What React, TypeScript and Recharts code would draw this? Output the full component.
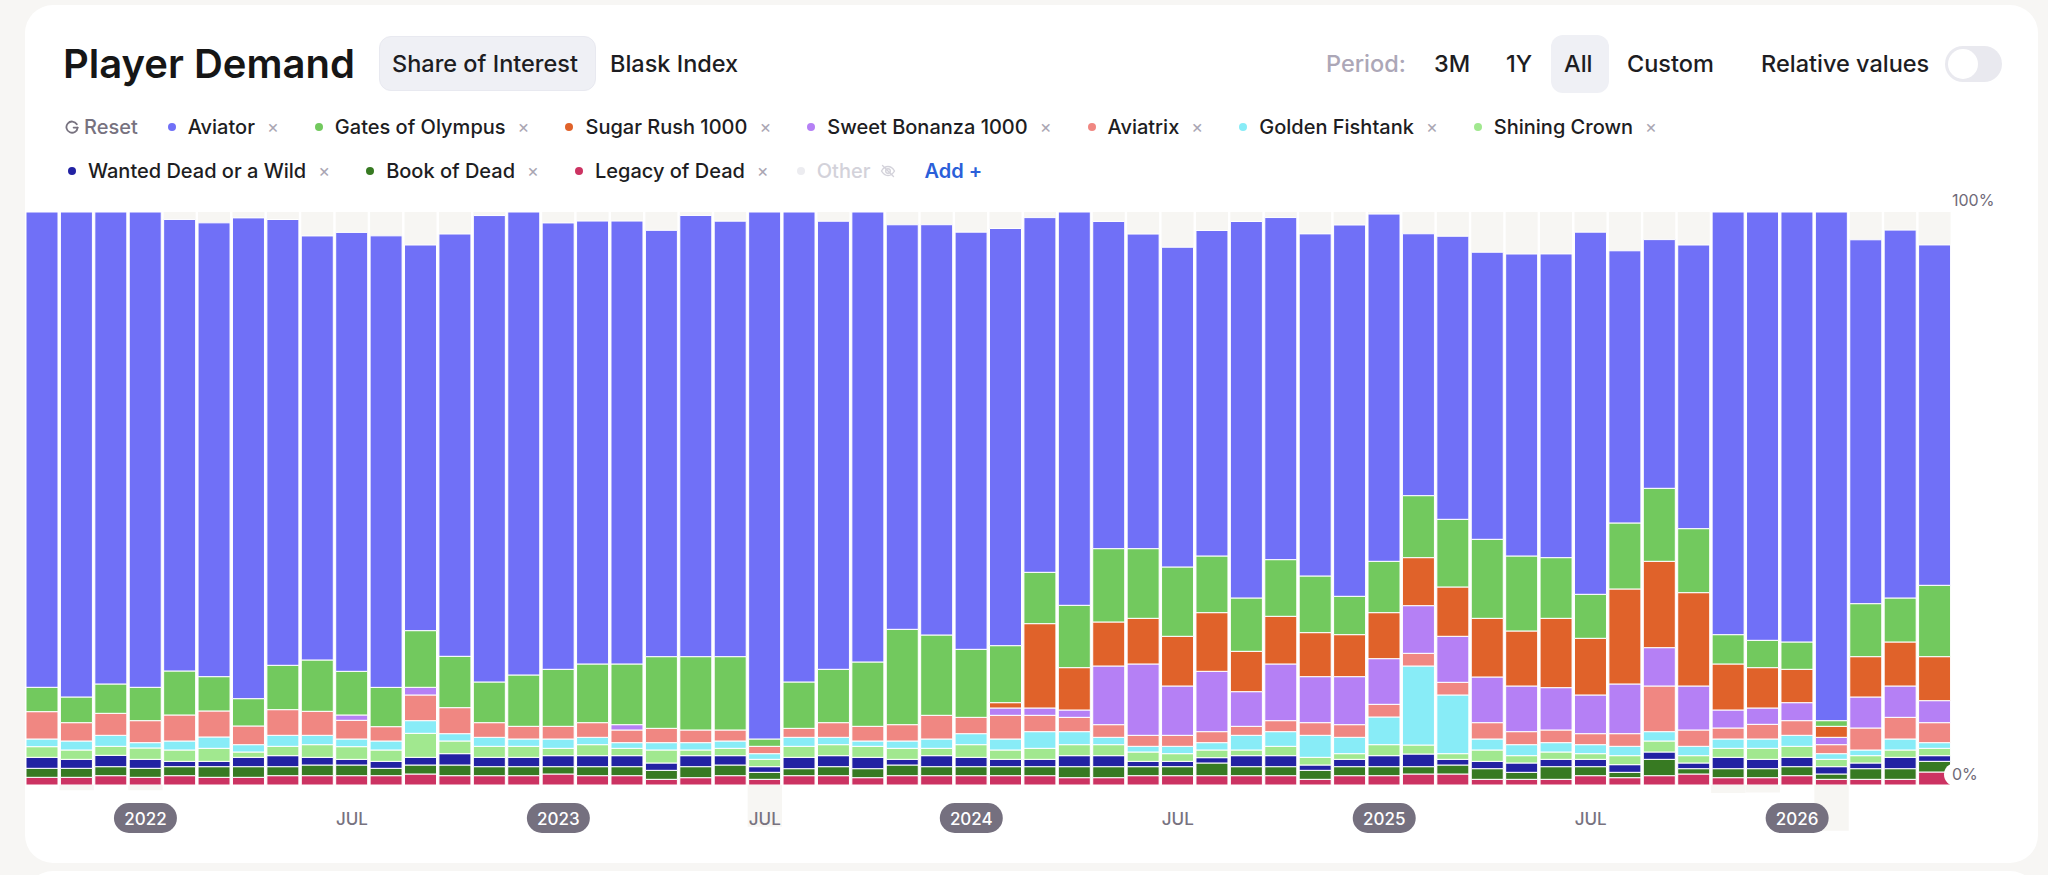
import React from 'react';
import { BarChart, Bar, XAxis, YAxis, ReferenceArea } from 'recharts';

const months = [
  '2021-10', '2021-11', '2021-12',
  '2022-01', '2022-02', '2022-03', '2022-04', '2022-05', '2022-06', '2022-07', '2022-08', '2022-09', '2022-10', '2022-11', '2022-12',
  '2023-01', '2023-02', '2023-03', '2023-04', '2023-05', '2023-06', '2023-07', '2023-08', '2023-09', '2023-10', '2023-11', '2023-12',
  '2024-01', '2024-02', '2024-03', '2024-04', '2024-05', '2024-06', '2024-07', '2024-08', '2024-09', '2024-10', '2024-11', '2024-12',
  '2025-01', '2025-02', '2025-03', '2025-04', '2025-05', '2025-06', '2025-07', '2025-08', '2025-09', '2025-10', '2025-11', '2025-12',
  '2026-01', '2026-02', '2026-03', '2026-04', '2026-05',
];

const legacyOfDead = [1.34, 1.34, 1.63, 1.34, 1.63, 1.34, 1.34, 1.63, 1.63, 1.63, 1.63, 1.92, 1.63, 1.63, 1.63, 1.92, 1.63, 1.63, 0.99, 1.28, 1.63, 0.99, 1.63, 1.63, 1.28, 1.63, 1.63, 1.63, 1.63, 1.63, 1.28, 1.28, 1.63, 1.63, 1.63, 1.63, 1.63, 0.99, 1.63, 1.63, 1.92, 1.92, 0.99, 0.99, 0.99, 1.63, 1.28, 1.63, 1.92, 1.28, 1.28, 1.63, 0.99, 0.99, 0.99, 2.27];
const bookOfDead = [1.57, 1.57, 1.57, 1.57, 1.57, 1.86, 1.86, 1.57, 1.86, 1.86, 1.28, 1.57, 1.86, 1.57, 1.57, 1.28, 1.57, 1.57, 1.57, 1.92, 1.86, 1.22, 1.22, 1.57, 1.57, 1.86, 1.57, 1.57, 1.57, 1.57, 1.92, 1.92, 1.57, 1.57, 2.21, 1.57, 1.57, 1.57, 1.57, 1.57, 1.28, 1.57, 1.86, 1.22, 2.21, 1.57, 0.93, 2.85, 0.93, 1.57, 1.57, 1.57, 0.93, 1.86, 1.86, 1.86];
const wantedDead = [1.92, 1.57, 1.98, 1.57, 0.93, 0.93, 1.63, 1.92, 1.34, 0.99, 1.22, 1.34, 1.98, 1.63, 1.63, 1.92, 1.92, 1.92, 1.28, 1.92, 1.63, 0.99, 1.98, 1.92, 1.98, 0.99, 1.92, 1.63, 1.28, 1.28, 1.92, 1.92, 0.93, 0.93, 0.93, 1.92, 1.92, 0.93, 1.28, 1.92, 2.21, 0.99, 1.28, 1.63, 1.28, 1.28, 1.34, 1.28, 0.99, 1.98, 1.63, 1.63, 1.28, 0.99, 1.98, 0.99];
const shiningCrown = [1.86, 1.63, 1.57, 1.98, 1.98, 2.27, 0.93, 1.63, 2.21, 2.21, 1.98, 4.19, 2.21, 1.92, 1.92, 1.28, 1.92, 1.28, 2.27, 0.99, 1.28, 1.28, 1.92, 1.92, 1.92, 1.92, 1.28, 2.21, 1.63, 1.92, 1.92, 1.92, 1.63, 1.34, 1.34, 0.99, 1.63, 1.34, 0.99, 1.92, 1.57, 0.99, 1.98, 1.28, 1.28, 0.99, 1.57, 1.92, 1.28, 1.57, 1.92, 1.92, 1.28, 1.28, 1.28, 1.28];
const goldenFishtank = [1.34, 1.57, 1.92, 0.93, 1.57, 1.98, 1.28, 1.92, 1.63, 1.34, 1.57, 2.21, 1.28, 1.57, 1.28, 1.63, 1.28, 0.99, 1.28, 1.28, 1.28, 0.99, 1.57, 1.28, 0.93, 1.28, 1.63, 1.92, 1.92, 2.91, 2.27, 1.28, 0.99, 1.28, 1.28, 2.56, 2.56, 3.84, 2.85, 4.83, 13.79, 10.24, 1.92, 1.92, 1.63, 1.57, 1.63, 1.63, 1.63, 1.63, 1.63, 1.92, 0.99, 0.99, 1.92, 0.99];
const aviatrix = [4.77, 3.2, 3.84, 3.84, 4.54, 4.54, 3.26, 4.48, 4.19, 3.26, 2.5, 4.48, 4.54, 2.56, 2.21, 2.21, 2.56, 2.21, 2.5, 2.21, 1.92, 1.28, 1.57, 2.56, 2.56, 2.85, 4.13, 2.85, 4.13, 2.85, 2.5, 2.21, 1.92, 1.92, 1.92, 1.57, 1.92, 2.21, 2.21, 2.21, 2.21, 2.21, 2.85, 2.27, 2.21, 1.92, 2.21, 7.97, 2.85, 1.92, 2.56, 2.56, 1.57, 3.84, 3.78, 3.49];
const sweetBonanza = [0, 0, 0, 0, 0, 0, 0, 0, 0, 0.93, 0, 1.34, 0, 0, 0, 0, 0, 0.93, 0, 0, 0, 0, 0, 0, 0, 0, 0, 0, 1.28, 1.28, 1.28, 10.24, 12.45, 8.61, 10.53, 6.05, 9.89, 8.03, 8.38, 7.97, 8.32, 8.03, 7.97, 7.97, 7.39, 6.75, 8.67, 6.69, 7.68, 3.14, 2.85, 3.14, 1.28, 5.41, 5.47, 3.84];
const sugarRush = [0, 0, 0, 0, 0, 0, 0, 0, 0, 0, 0, 0, 0, 0, 0, 0, 0, 0, 0, 0, 0, 0, 0, 0, 0, 0, 0, 0, 0.93, 14.72, 7.39, 7.68, 7.97, 8.67, 10.24, 7.04, 8.32, 7.68, 7.33, 8.03, 8.38, 8.61, 10.24, 9.6, 12.1, 9.89, 16.58, 15.07, 16.29, 8.03, 7.04, 5.82, 1.92, 7.04, 7.68, 7.68];
const gatesOfOlympus = [4.25, 4.48, 5.12, 5.82, 7.68, 5.99, 4.77, 7.74, 8.96, 7.62, 6.86, 9.89, 8.96, 7.1, 8.96, 9.95, 10.24, 10.59, 12.51, 12.8, 12.8, 1.28, 8.09, 9.31, 11.23, 16.64, 14.02, 11.87, 9.95, 8.96, 10.88, 12.8, 12.16, 12.1, 9.89, 9.31, 9.89, 9.89, 6.69, 8.96, 10.82, 11.81, 13.79, 13.09, 10.59, 7.68, 11.52, 12.74, 11.17, 5.12, 4.77, 4.77, 0.99, 9.25, 7.68, 12.45];
const aviator = [82.95, 84.64, 82.37, 82.95, 78.8, 79.2, 83.9, 77.8, 74.0, 76.6, 78.8, 67.3, 73.7, 81.4, 80.8, 77.9, 77.3, 77.3, 74.4, 77.0, 76.0, 91.97, 82.02, 78.2, 78.53, 70.6, 71.6, 72.8, 72.8, 61.9, 68.64, 57.1, 54.9, 55.8, 56.8, 65.7, 59.7, 59.7, 64.8, 60.6, 45.7, 49.4, 50.1, 52.7, 53.0, 63.2, 47.5, 43.4, 49.5, 73.76, 74.75, 75.04, 88.77, 63.5, 64.2, 59.4];

// stacked bottom -> top
const seriesKeys = ['legacy', 'book', 'wanted', 'shining', 'golden', 'aviatrix', 'sweet', 'sugar', 'gates', 'aviator'];
const seriesNames = ['Legacy of Dead', 'Book of Dead', 'Wanted Dead or a Wild', 'Shining Crown', 'Golden Fishtank', 'Aviatrix', 'Sweet Bonanza 1000', 'Sugar Rush 1000', 'Gates of Olympus', 'Aviator'];
const seriesColors = ['#cc3362', '#377a22', '#2222a3', '#a1e88f', '#88ecf7', '#f08782', '#b580f5', '#e0622a', '#72c95e', '#7070f7'];
const seriesValues = [legacyOfDead, bookOfDead, wantedDead, shiningCrown, goldenFishtank, aviatrix, sweetBonanza, sugarRush, gatesOfOlympus, aviator];

const legendRow1 = ['Aviator', 'Gates of Olympus', 'Sugar Rush 1000', 'Sweet Bonanza 1000', 'Aviatrix', 'Golden Fishtank', 'Shining Crown'];
const legendRow2 = ['Wanted Dead or a Wild', 'Book of Dead', 'Legacy of Dead'];

const tickMonths = ['2022-01', '2022-07', '2023-01', '2023-07', '2024-01', '2024-07', '2025-01', '2025-07', '2026-01'];
const tickTexts = ['2022', 'JUL', '2023', 'JUL', '2024', 'JUL', '2025', 'JUL', '2026'];

// light hover/background columns showing below a few bars
const shadeMonths = ['2021-11', '2022-01', '2023-07', '2025-11', '2025-12', '2026-02'];
const shadeDepth = [-0.9, -0.9, -7.3, -1.4, -1.3, -8.0];

const data = months.map((m, i) => {
  const row: Record<string, any> = { month: m };
  seriesKeys.forEach((k, j) => {
    row[k] = seriesValues[j][i];
  });
  return row;
});

const FONT = 'Inter, "Noto Sans", Roboto, sans-serif';

const XTick = (props: any) => {
  const { x, y, payload } = props;
  const idx = tickMonths.indexOf(payload.value);
  if (idx < 0) return null;
  const label = tickTexts[idx];
  if (label === 'JUL') {
    return (
      <text x={x} y={y + 34} textAnchor="middle" dominantBaseline="central" fontFamily={FONT} fontSize={17} fontWeight={500} fill="#77727f">
        {label}
      </text>
    );
  }
  return (
    <g>
      <rect x={x - 31.5} y={y + 18} width={63} height={30} rx={15} fill="#75707f" />
      <text x={x} y={y + 34} textAnchor="middle" dominantBaseline="central" fontFamily={FONT} fontSize={17} fontWeight={500} fill="#ffffff">
        {label}
      </text>
    </g>
  );
};

const YTick = (props: any) => {
  const { x, y, payload } = props;
  if (payload.value === 100) {
    return (
      <text x={x} y={y - 12} dominantBaseline="central" fontFamily={FONT} fontSize={16} fill="#6f6a78">
        100%
      </text>
    );
  }
  return (
    <g>
      <rect x={x - 8} y={y - 22} width={38} height={23} rx={11.5} fill="#ffffff" />
      <text x={x} y={y - 11} dominantBaseline="central" fontFamily={FONT} fontSize={16} fill="#6f6a78">
        0%
      </text>
    </g>
  );
};

const abs = (left: number, cy: number, fs: number, weight: number, color: string, content: React.ReactNode) => (
  <div
    style={{
      position: 'absolute',
      left,
      top: cy,
      transform: 'translateY(-50%)',
      fontSize: fs,
      lineHeight: 1,
      fontWeight: weight,
      color,
      whiteSpace: 'nowrap',
      fontFamily: FONT,
    }}
  >
    {content}
  </div>
);

const ResetIcon = () => (
  <svg width={14} height={14} viewBox="0 0 14 14" style={{ marginRight: 5 }}>
    <path d="M11.8 4.2 A5.6 5.6 0 1 0 12.6 7.6" fill="none" stroke="#77727f" strokeWidth={1.8} strokeLinecap="round" />
    <path d="M12.6 7.6 L8.6 7.6" fill="none" stroke="#77727f" strokeWidth={1.8} strokeLinecap="round" />
  </svg>
);

const EyeOff = () => (
  <svg width={16} height={16} viewBox="0 0 16 16" style={{ marginLeft: 10 }}>
    <path d="M1.5 8 C3.5 4.5 6 3.5 8 3.5 C10 3.5 12.5 4.5 14.5 8 C12.5 11.5 10 12.5 8 12.5 C6 12.5 3.5 11.5 1.5 8 Z" fill="none" stroke="#d3d2da" strokeWidth={1.4} />
    <circle cx={8} cy={8} r={2.3} fill="none" stroke="#d3d2da" strokeWidth={1.4} />
    <path d="M2.5 2.5 L13.5 13.5" stroke="#d3d2da" strokeWidth={1.4} strokeLinecap="round" />
  </svg>
);

const LegendItem = ({ name, color }: { name: string; color: string }) => (
  <div style={{ display: 'flex', alignItems: 'center', marginRight: 36 }}>
    <span style={{ width: 8, height: 8, borderRadius: 4, background: color, marginRight: 12, display: 'inline-block' }} />
    <span style={{ fontSize: 20, fontWeight: 500, color: '#1d1d22', lineHeight: 1 }}>{name}</span>
    <span style={{ fontSize: 18, color: '#aaa6b3', marginLeft: 12, lineHeight: 1 }}>×</span>
  </div>
);

const colorOf = (name: string) => seriesColors[seriesNames.indexOf(name)];

export default function App() {
  return (
    <div style={{ position: 'absolute', left: 0, top: 0, width: 2048, height: 875, background: '#f7f6f4', overflow: 'hidden', fontFamily: FONT }}>
      <div style={{ position: 'absolute', left: 25, top: 5, width: 2013, height: 858, background: '#ffffff', borderRadius: 28 }} />
      <div style={{ position: 'absolute', left: 25, top: 871, width: 2013, height: 60, background: '#ffffff', borderRadius: 28 }} />

      <div style={{ position: 'absolute', left: 0, top: 0 }}>
        <BarChart width={2048} height={875} data={data} margin={{ top: 212, right: 0, bottom: 30, left: 25 }} barCategoryGap={1}>
          <XAxis dataKey="month" height={60} interval={0} tickLine={false} axisLine={false} tickSize={0} tickMargin={0} tick={(p: any) => <XTick {...p} />} />
          {seriesKeys.map((k, j) => (
            <Bar
              key={k}
              dataKey={k}
              name={seriesNames[j]}
              stackId="s"
              fill={seriesColors[j]}
              stroke="#ffffff"
              strokeWidth={1}
              isAnimationActive={false}
              background={j === 0 ? { fill: '#f7f6f3' } : undefined}
            />
          ))}
          {shadeMonths.map((m, i) => (
            <ReferenceArea key={m} x1={m} x2={m} y1={shadeDepth[i]} y2={0} fill="#f7f6f3" fillOpacity={1} stroke="none" ifOverflow="visible" />
          ))}
          <YAxis orientation="right" width={96} domain={[0, 100]} ticks={[0, 100]} allowDataOverflow tickLine={false} axisLine={false} tickSize={0} tickMargin={0} tick={(p: any) => <YTick {...p} />} />
        </BarChart>
      </div>

      {abs(63, 63.5, 40, 600, '#161616', 'Player Demand')}
      <div style={{ position: 'absolute', left: 379, top: 36, width: 217, height: 55, background: '#eff0f5', borderRadius: 12, border: '1px solid #e8e9f0', boxSizing: 'border-box' }} />
      {abs(392, 63.5, 23.5, 500, '#1d1d22', 'Share of Interest')}
      {abs(610, 63.5, 23.5, 500, '#1d1d22', 'Blask Index')}

      {abs(1326, 63.5, 23.5, 500, '#aca7b7', 'Period:')}
      {abs(1434, 63.5, 23.5, 500, '#1d1d22', '3M')}
      {abs(1506, 63.5, 23.5, 500, '#1d1d22', '1Y')}
      <div style={{ position: 'absolute', left: 1551, top: 35, width: 58, height: 58, background: '#eff0f5', borderRadius: 12 }} />
      {abs(1564, 63.5, 23.5, 500, '#1d1d22', 'All')}
      {abs(1627, 63.5, 23.5, 500, '#1d1d22', 'Custom')}
      {abs(1761, 63.5, 23.5, 500, '#1d1d22', 'Relative values')}
      <div style={{ position: 'absolute', left: 1945, top: 46, width: 57, height: 36, background: '#e9e9ef', borderRadius: 18 }} />
      <div style={{ position: 'absolute', left: 1948, top: 49, width: 30, height: 30, background: '#ffffff', borderRadius: 15 }} />

      <div style={{ position: 'absolute', left: 65, top: 127, transform: 'translateY(-50%)', display: 'flex', alignItems: 'center', whiteSpace: 'nowrap', fontFamily: FONT }}>
        <div style={{ display: 'flex', alignItems: 'center', marginRight: 30 }}>
          <ResetIcon />
          <span style={{ fontSize: 20, fontWeight: 500, color: '#77727f', lineHeight: 1 }}>Reset</span>
        </div>
        {legendRow1.map((n) => (
          <LegendItem key={n} name={n} color={colorOf(n)} />
        ))}
      </div>

      <div style={{ position: 'absolute', left: 68, top: 171, transform: 'translateY(-50%)', display: 'flex', alignItems: 'center', whiteSpace: 'nowrap', fontFamily: FONT }}>
        {legendRow2.map((n) => (
          <LegendItem key={n} name={n} color={colorOf(n)} />
        ))}
        <div style={{ display: 'flex', alignItems: 'center', marginLeft: -8, marginRight: 28 }}>
          <span style={{ width: 8, height: 8, borderRadius: 4, background: '#ececf0', marginRight: 12, display: 'inline-block' }} />
          <span style={{ fontSize: 20, fontWeight: 500, color: '#d3d2da', lineHeight: 1 }}>Other</span>
          <EyeOff />
        </div>
        <span style={{ fontSize: 20, fontWeight: 600, color: '#2b5fd9', lineHeight: 1 }}>Add +</span>
      </div>
    </div>
  );
}
